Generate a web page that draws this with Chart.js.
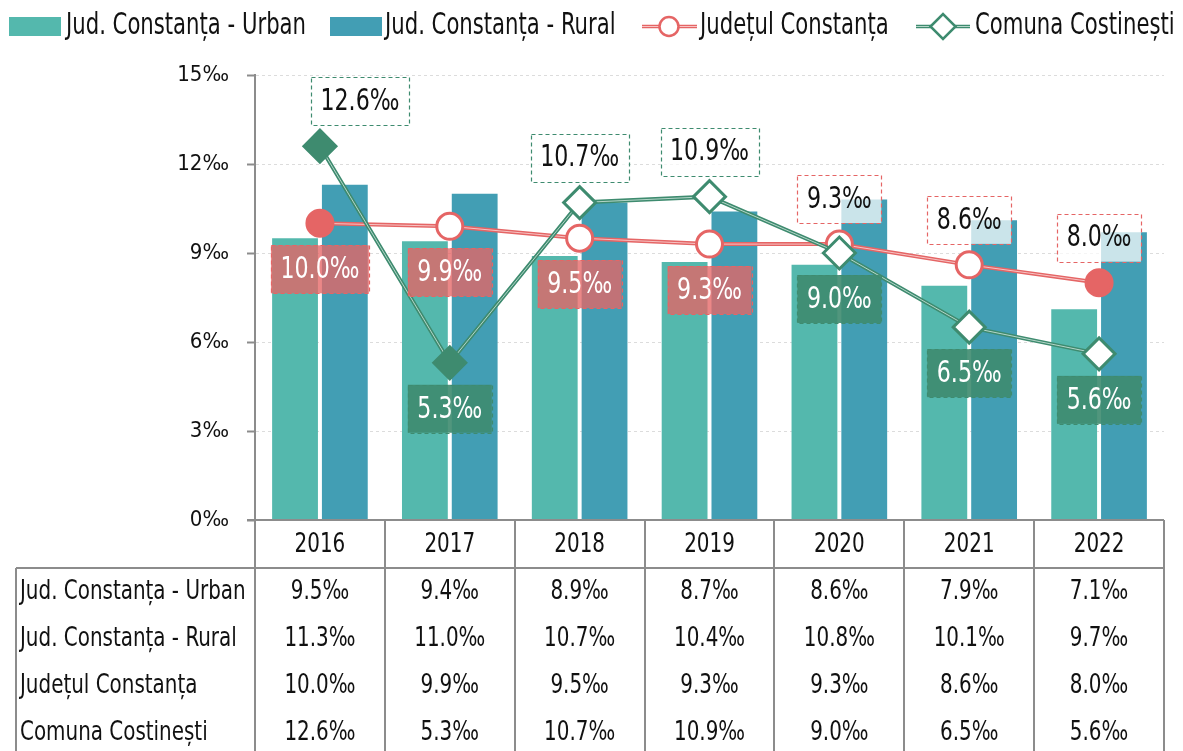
<!DOCTYPE html>
<html>
<head>
<meta charset="utf-8">
<title>Jud. Constanța / Comuna Costinești</title>
<script src="https://cdn.jsdelivr.net/npm/chart.js@4.4.1/dist/chart.umd.min.js"></script>
<style>
  html, body { margin: 0; padding: 0; background: #fff; }
  canvas { display: block; }
</style>
</head>
<body>
<canvas id="chart" width="1183" height="751"></canvas>
<script>
// ==========================
// Data
// ==========================
const years = ['2016', '2017', '2018', '2019', '2020', '2021', '2022'];
const urban = [9.5, 9.4, 8.9, 8.7, 8.6, 7.9, 7.1];
const rural = [11.3, 11.0, 10.7, 10.4, 10.8, 10.1, 9.7];
const judet = [10.0, 9.9, 9.5, 9.3, 9.3, 8.6, 8.0];
const costinesti = [12.6, 5.3, 10.7, 10.9, 9.0, 6.5, 5.6];
const seriesNames = ['Jud. Constanța - Urban', 'Jud. Constanța - Rural', 'Județul Constanța', 'Comuna Costinești'];
const yTicks = [0, 3, 6, 9, 12, 15];

// ==========================
// Styling
// ==========================
const FONT = "'DejaVu Sans Condensed', 'Liberation Sans Narrow', sans-serif";
const SX = 0.82; // horizontal squeeze to get a narrow face
const C_URBAN = '#54b8ad';
const C_RURAL = '#429eb4';
const C_RED = '#e56565';
const C_RED_LIGHT = '#f7c4c4';
const C_GREEN = '#3e8b6f';
const C_GREEN_LIGHT = '#b5d6c9';
const C_GRID = '#8c8c8c';

const fmt = v => v.toFixed(1) + '‰';

Chart.defaults.font.family = FONT;

// which side of the point each label sits on
const redPos = ['below', 'below', 'below', 'below', 'above', 'above', 'above'];
const greenPos = ['above', 'below', 'above', 'above', 'below', 'below', 'below'];
const greenShift = [40, 0, 0, 0, 0, 0, 0];

// narrow text helper
function narrowText(ctx, s, x, y, align, sx) {
    ctx.save();
    ctx.translate(x, y);
    ctx.scale(sx || SX, 1);
    ctx.textAlign = align;
    ctx.fillText(s, 0, 0);
    ctx.restore();
}

// ==========================
// Data labels in dashed boxes
// ==========================
const boxLabels = {
    id: 'boxLabels',
    afterDatasetsDraw(chart) {
        const ctx = chart.ctx;
        const specs = [
            { ds: 4, values: judet, pos: redPos, shift: null, color: C_RED, fill: 'rgba(229,101,101,0.78)' },
            { ds: 7, values: costinesti, pos: greenPos, shift: greenShift, color: C_GREEN, fill: 'rgba(62,139,111,0.9)' }
        ];
        ctx.save();
        ctx.font = '30px ' + FONT;
        ctx.textBaseline = 'middle';
        specs.forEach(spec => {
            const meta = chart.getDatasetMeta(spec.ds);
            meta.data.forEach((pt, i) => {
                const text = fmt(spec.values[i]);
                const above = spec.pos[i] === 'above';
                const w = ctx.measureText(text).width * SX + 19;
                const h = 48;
                const cx = pt.x + (spec.shift ? spec.shift[i] : 0);
                const cy = above ? pt.y - 45 : pt.y + 46;
                ctx.fillStyle = above ? 'rgba(255,255,255,0.72)' : spec.fill;
                ctx.fillRect(cx - w / 2, cy - h / 2, w, h);
                ctx.setLineDash([4, 3]);
                ctx.lineWidth = 1.2;
                ctx.strokeStyle = spec.color;
                ctx.strokeRect(Math.round(cx - w / 2) + 0.5, Math.round(cy - h / 2) + 0.5, Math.round(w), h);
                ctx.setLineDash([]);
                ctx.fillStyle = above ? '#111' : '#fff';
                narrowText(ctx, text, cx, cy + 1, 'center');
            });
        });
        ctx.restore();
    }
};

// ==========================
// Legend + data table
// ==========================
function doubleLine(ctx, x1, y1, x2, y2, color, light, width) {
    ctx.beginPath();
    ctx.moveTo(x1, y1);
    ctx.lineTo(x2, y2);
    ctx.strokeStyle = color;
    ctx.lineWidth = width;
    ctx.stroke();
    ctx.beginPath();
    ctx.moveTo(x1, y1);
    ctx.lineTo(x2, y2);
    ctx.strokeStyle = light;
    ctx.lineWidth = 1;
    ctx.stroke();
}

const legendAndTable = {
    id: 'legendAndTable',
    afterDraw(chart) {
        const ctx = chart.ctx;
        const area = chart.chartArea;
        const xs = chart.scales.x;
        const n = years.length;
        const step = (area.right - area.left) / n;
        ctx.save();

        // legend
        const ly = 26.5;
        const LSX = 0.785;
        ctx.font = '30px ' + FONT;
        ctx.textBaseline = 'middle';
        ctx.fillStyle = C_URBAN;
        ctx.fillRect(9, 17, 52, 19);
        ctx.fillStyle = C_RURAL;
        ctx.fillRect(330, 17, 52, 19);
        doubleLine(ctx, 642, ly, 697, ly, C_RED, C_RED_LIGHT, 3.5);
        ctx.beginPath();
        ctx.arc(669, ly, 9.5, 0, Math.PI * 2);
        ctx.fillStyle = '#fff';
        ctx.fill();
        ctx.lineWidth = 2.5;
        ctx.strokeStyle = C_RED;
        ctx.stroke();
        doubleLine(ctx, 916, ly, 970, ly, C_GREEN, C_GREEN_LIGHT, 3.5);
        ctx.beginPath();
        ctx.moveTo(943 - 12.5, ly);
        ctx.lineTo(943, ly - 12.5);
        ctx.lineTo(943 + 12.5, ly);
        ctx.lineTo(943, ly + 12.5);
        ctx.closePath();
        ctx.fillStyle = '#fff';
        ctx.fill();
        ctx.lineWidth = 2.5;
        ctx.strokeStyle = C_GREEN;
        ctx.stroke();
        ctx.fillStyle = '#111';
        narrowText(ctx, seriesNames[0], 66, ly, 'left', LSX);
        narrowText(ctx, seriesNames[1], 385, ly, 'left', LSX);
        narrowText(ctx, seriesNames[2], 700, ly, 'left', LSX);
        narrowText(ctx, seriesNames[3], 975, ly, 'left', LSX);

        // table grid
        const top = area.bottom;
        const headBottom = top + 48;
        const bottom = chart.height;
        ctx.strokeStyle = C_GRID;
        ctx.lineWidth = 2;
        ctx.beginPath();
        ctx.moveTo(area.left - 8, top);
        ctx.lineTo(area.right, top);
        ctx.moveTo(16, headBottom);
        ctx.lineTo(area.right, headBottom);
        for (let k = 0; k <= n; k++) {
            const x = Math.round(area.left + k * step);
            ctx.moveTo(x, top);
            ctx.lineTo(x, bottom);
        }
        ctx.moveTo(16, headBottom);
        ctx.lineTo(16, bottom);
        ctx.stroke();

        // table text
        const rows = [urban, rural, judet, costinesti];
        ctx.font = '27px ' + FONT;
        ctx.fillStyle = '#111';
        years.forEach((yr, i) => {
            narrowText(ctx, yr, xs.getPixelForValue(i), top + 25, 'center');
        });
        rows.forEach((row, r) => {
            const y = headBottom + 24 + r * 47;
            narrowText(ctx, seriesNames[r], 20, y, 'left');
            row.forEach((v, i) => narrowText(ctx, fmt(v), xs.getPixelForValue(i), y, 'center'));
        });
        ctx.restore();
    }
};

// ==========================
// Chart
// ==========================
const pointFillRed = ['#e56565', '#fff', '#fff', '#fff', '#fff', '#fff', '#e56565'];
const pointFillGreen = ['#3e8b6f', '#3e8b6f', '#fff', '#fff', '#fff', '#fff', '#fff'];

const ctx = document.getElementById('chart').getContext('2d');
new Chart(ctx, {
    data: {
        labels: years,
        datasets: [
            { type: 'bar', label: seriesNames[0], data: urban, backgroundColor: C_URBAN, order: 10, barPercentage: 0.92, categoryPercentage: 0.767 },
            { type: 'bar', label: seriesNames[1], data: rural, backgroundColor: C_RURAL, order: 11, barPercentage: 0.92, categoryPercentage: 0.767 },
            // Judetul Constanta: double line + markers
            { type: 'line', label: seriesNames[2], data: judet, borderColor: C_RED, borderWidth: 4, pointRadius: 0, order: 6 },
            { type: 'line', label: '', data: judet, borderColor: C_RED_LIGHT, borderWidth: 1, pointRadius: 0, order: 5 },
            { type: 'line', label: '', data: judet, showLine: false, pointStyle: 'circle', pointRadius: 13, pointBorderWidth: 3,
              pointBorderColor: C_RED, pointBackgroundColor: pointFillRed, order: 4 },
            // Comuna Costinesti
            { type: 'line', label: seriesNames[3], data: costinesti, borderColor: C_GREEN, borderWidth: 4, pointRadius: 0, order: 3 },
            { type: 'line', label: '', data: costinesti, borderColor: C_GREEN_LIGHT, borderWidth: 1, pointRadius: 0, order: 2 },
            { type: 'line', label: '', data: costinesti, showLine: false, pointStyle: 'rectRot', pointRadius: 16, pointBorderWidth: 3,
              pointBorderColor: C_GREEN, pointBackgroundColor: pointFillGreen, order: 1 }
        ]
    },
    options: {
        responsive: false,
        animation: false,
        layout: { padding: { top: 75, bottom: 231, right: 15, left: 0 } },
        plugins: { legend: { display: false }, tooltip: { enabled: false } },
        scales: {
            x: { display: false, offset: true },
            y: {
                min: 0, max: 15,
                afterFit(scale) { scale.width = 255; },
                afterBuildTicks(scale) { scale.ticks = yTicks.map(v => ({ value: v })); },
                ticks: { callback: v => v + '‰', color: '#111', font: { size: 22 }, padding: 18 },
                grid: { color: '#dcdcdc', tickColor: C_GRID, tickLength: 8, tickWidth: 2 },
                border: { color: C_GRID, width: 2, dash: [3, 3] }
            }
        }
    },
    plugins: [boxLabels, legendAndTable]
});
</script>
</body>
</html>
